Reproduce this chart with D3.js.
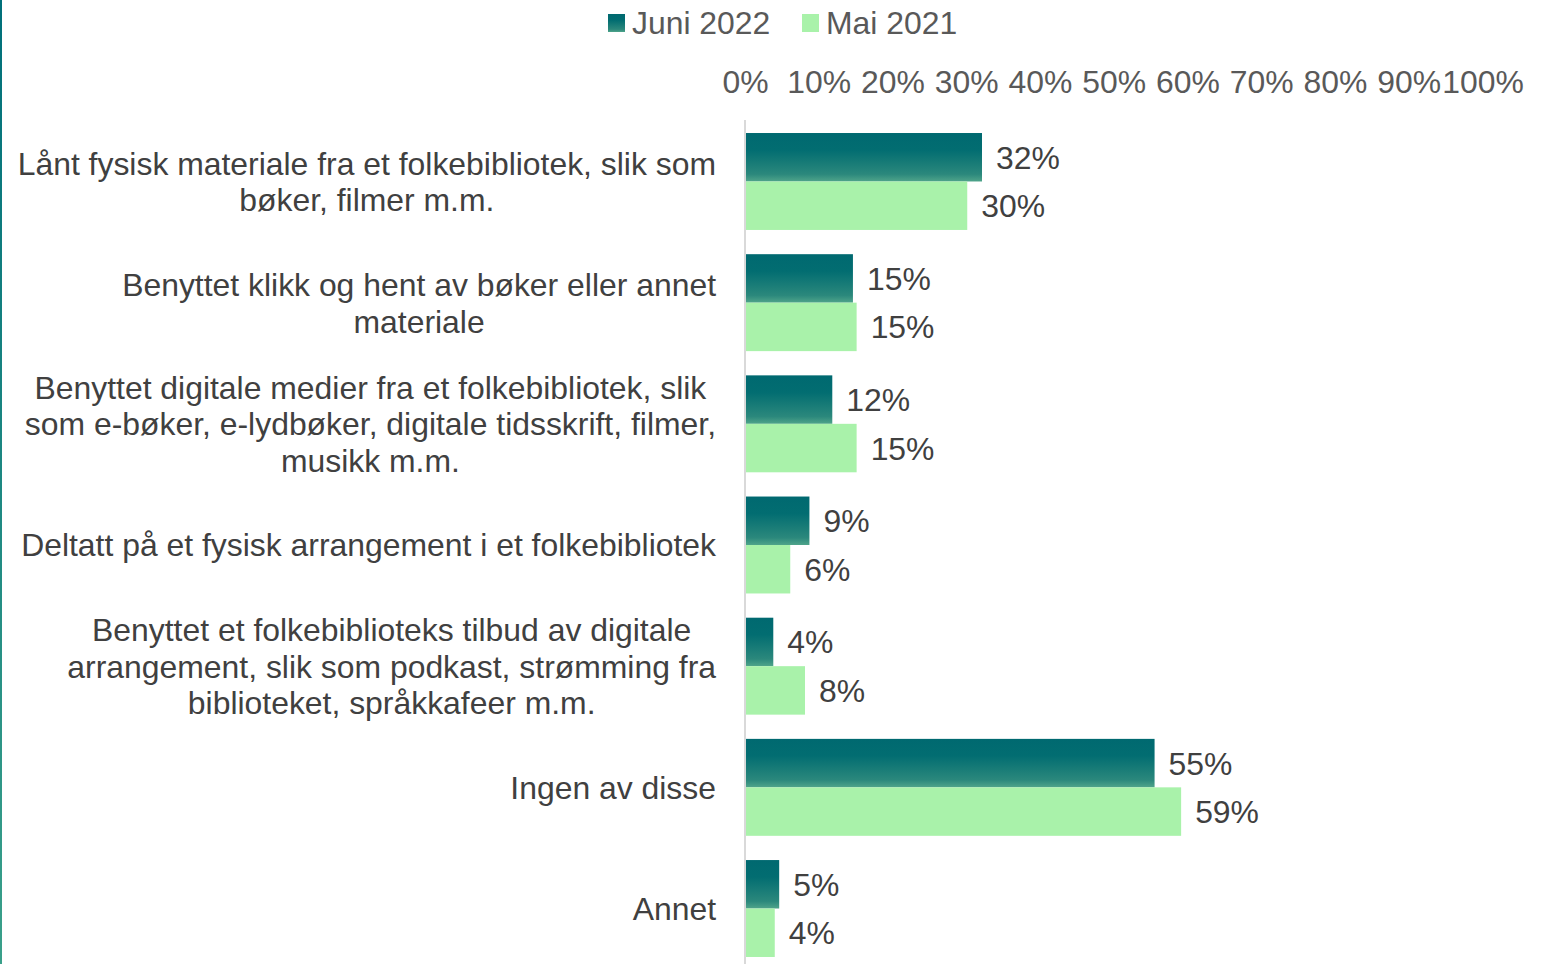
<!DOCTYPE html>
<html>
<head>
<meta charset="utf-8">
<script src="https://cdn.jsdelivr.net/npm/d3@7"></script>
<style>
  html, body { margin: 0; padding: 0; background: #fff; }
  svg { display: block; font-family: "Liberation Sans", Arial, sans-serif; }
</style>
</head>
<body>
<div class="bar_chart"></div>
<script>
// data
const categories = [
  ["Lånt fysisk materiale fra et folkebibliotek, slik som", "bøker, filmer m.m."],
  ["Benyttet klikk og hent av bøker eller annet", "materiale"],
  ["Benyttet digitale medier fra et folkebibliotek, slik", "som e-bøker, e-lydbøker, digitale tidsskrift, filmer,", "musikk m.m."],
  ["Deltatt på et fysisk arrangement i et folkebibliotek"],
  ["Benyttet et folkebiblioteks tilbud av digitale", "arrangement, slik som podkast, strømming fra", "biblioteket, språkkafeer m.m."],
  ["Ingen av disse"],
  ["Annet"]
];
const seriesNames = ["Juni 2022", "Mai 2021"];
const juni2022 = [32.0, 14.5, 11.7, 8.6, 3.7, 55.4, 4.5];
const mai2021 = [30.0, 15.0, 15.0, 6.0, 8.0, 59.0, 3.9];
const ticks = [0, 10, 20, 30, 40, 50, 60, 70, 80, 90, 100];

const width = 1550, height = 964;
const colorLight = "#A9F2AA";
const fontSize = 31.9;

const svg = d3.select(".bar_chart").append("svg")
  .attr("width", width).attr("height", height);

const defs = svg.append("defs");
const grad = defs.append("linearGradient")
  .attr("id", "tealGrad").attr("x1", 0).attr("y1", 0).attr("x2", 0).attr("y2", 1);
grad.append("stop").attr("offset", "0%").attr("stop-color", "#006970");
grad.append("stop").attr("offset", "35%").attr("stop-color", "#026D71");
grad.append("stop").attr("offset", "85%").attr("stop-color", "#2B887C");
grad.append("stop").attr("offset", "100%").attr("stop-color", "#4FA48A");

const edgeGrad = defs.append("linearGradient")
  .attr("id", "edgeGrad").attr("x1", 0).attr("y1", 0).attr("x2", 0).attr("y2", 1);
edgeGrad.append("stop").attr("offset", "0%").attr("stop-color", "#00707A");
edgeGrad.append("stop").attr("offset", "100%").attr("stop-color", "#3AA08A");

// left edge stripe
svg.append("rect").attr("x", 0).attr("y", 0).attr("width", 2).attr("height", height)
  .attr("fill", "url(#edgeGrad)");

const x = d3.scaleLinear().domain([0, 100]).range([745, 1482.5]);
const y = d3.scaleBand().domain(d3.range(categories.length))
  .range([120.9, 969.1]).paddingInner(0.2).paddingOuter(0.1);
const sub = d3.scaleBand().domain([0, 1]).range([0, y.bandwidth()]);

// top axis
const axis = svg.append("g").attr("transform", "translate(0,93)")
  .call(d3.axisTop(x).tickValues(ticks).tickFormat(d => d + "%").tickSize(0).tickPadding(0));
axis.select(".domain").remove();
axis.selectAll("text")
  .attr("font-size", fontSize).attr("fill", "#595959")
  .attr("font-family", "Liberation Sans, Arial, sans-serif")
  .attr("dy", 0);

// vertical axis line
svg.append("line").attr("x1", x(0)).attr("x2", x(0))
  .attr("y1", 120).attr("y2", height)
  .attr("stroke", "#D9D9D9").attr("stroke-width", 2);

const groups = svg.selectAll("g.grp").data(categories).join("g")
  .attr("class", "grp")
  .attr("transform", (d, i) => `translate(0,${y(i)})`);

const rows = (i) => [juni2022[i], mai2021[i]];

groups.selectAll("rect").data((d, i) => rows(i)).join("rect")
  .attr("x", x(0) + 1)
  .attr("y", (d, j) => sub(j))
  .attr("width", d => x(d) - x(0))
  .attr("height", sub.bandwidth())
  .attr("fill", (d, j) => j === 0 ? "url(#tealGrad)" : colorLight);

groups.selectAll("text.val").data((d, i) => rows(i)).join("text")
  .attr("class", "val")
  .attr("x", d => x(d) + 15)
  .attr("y", (d, j) => sub(j) + sub.bandwidth() / 2)
  .attr("dy", "0.36em")
  .attr("font-size", fontSize).attr("fill", "#404040")
  .text(d => Math.round(d) + "%");

// category labels: centred lines, block right-aligned at 716
const lineH = 36.8;
groups.append("text")
  .attr("text-anchor", "middle")
  .attr("font-size", fontSize).attr("fill", "#404040")
  .each(function (lines) {
    const t = d3.select(this);
    const c = y.bandwidth() / 2;
    const spans = lines.map((ln, k) => t.append("tspan")
        .attr("y", c + (k - (lines.length - 1) / 2) * lineH)
        .attr("dy", "0.36em")
        .text(ln));
    const maxW = d3.max(spans, s => s.node().getComputedTextLength());
    spans.forEach(s => s.attr("x", 716 - maxW / 2));
  });

// legend
const legend = svg.append("g");
const legendX = [608, 802];
seriesNames.forEach((name, i) => {
  legend.append("rect").attr("x", legendX[i]).attr("y", 14)
    .attr("width", 17).attr("height", 18)
    .attr("fill", i === 0 ? "url(#tealGrad)" : colorLight);
  legend.append("text").attr("x", legendX[i] + 24).attr("y", 23)
    .attr("dy", "0.36em").attr("font-size", fontSize).attr("fill", "#595959")
    .text(name);
});
</script>
</body>
</html>
